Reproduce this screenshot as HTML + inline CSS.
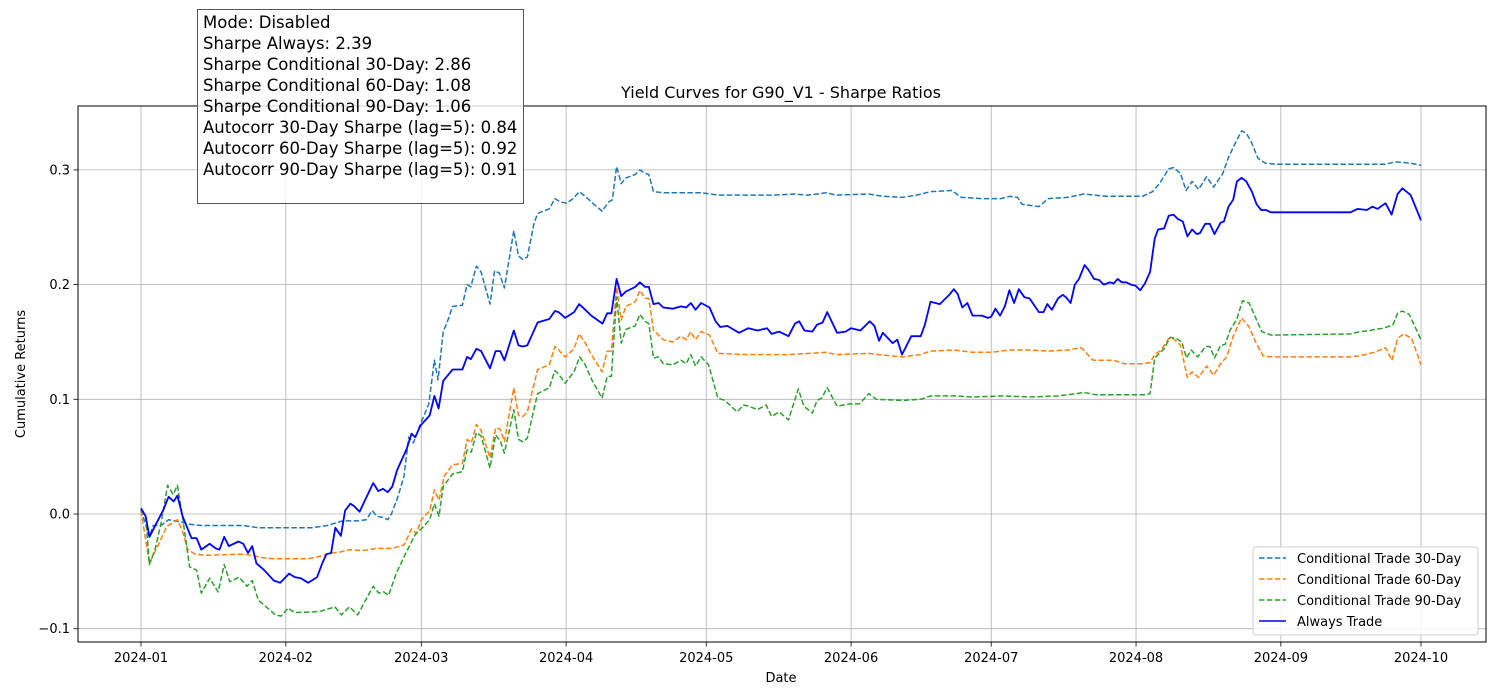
<!DOCTYPE html>
<html><head><meta charset="utf-8"><style>
body{margin:0;background:#fff;}
svg{display:block;font-family:"DejaVu Sans","Liberation Sans",sans-serif;}
</style></head><body>
<svg id="chart" width="1500" height="700" viewBox="0 0 1500 700">
<rect x="0" y="0" width="1500" height="700" fill="#fff"/>
<g id="grid"></g>
<g id="series"></g>
<rect x="78" y="106" width="1408" height="536" fill="none" stroke="#000" stroke-width="1"/>
<g id="ticks"></g>
<text x="781" y="98" font-size="16" text-anchor="middle">Yield Curves for G90_V1 - Sharpe Ratios</text>
<text x="781" y="682" font-size="13" text-anchor="middle">Date</text>
<text x="25" y="374" font-size="13" text-anchor="middle" transform="rotate(-90 25 374)">Cumulative Returns</text>
<g>
<rect x="197.5" y="9.5" width="326" height="194" fill="#fff" fill-opacity="0.8" stroke="#555" stroke-width="1"/>
<g font-size="16.5" fill="#000">
<text x="203" y="28">Mode: Disabled</text>
<text x="203" y="49">Sharpe Always: 2.39</text>
<text x="203" y="70">Sharpe Conditional 30-Day: 2.86</text>
<text x="203" y="91">Sharpe Conditional 60-Day: 1.08</text>
<text x="203" y="112">Sharpe Conditional 90-Day: 1.06</text>
<text x="203" y="133">Autocorr 30-Day Sharpe (lag=5): 0.84</text>
<text x="203" y="154">Autocorr 60-Day Sharpe (lag=5): 0.92</text>
<text x="203" y="175">Autocorr 90-Day Sharpe (lag=5): 0.91</text>
</g></g>
<g>
<rect x="1253" y="547" width="225" height="88" rx="3" fill="#fff" fill-opacity="0.85" stroke="#ccc"/>
<line x1="1259" y1="558" x2="1286" y2="558" stroke="#1f77b4" stroke-width="1.5" stroke-dasharray="5.5,2.4"/>
<line x1="1259" y1="579" x2="1286" y2="579" stroke="#ff7f0e" stroke-width="1.5" stroke-dasharray="5.5,2.4"/>
<line x1="1259" y1="600" x2="1286" y2="600" stroke="#2ca02c" stroke-width="1.5" stroke-dasharray="5.5,2.4"/>
<line x1="1259" y1="621" x2="1286" y2="621" stroke="#0000ff" stroke-width="1.5"/>
<g font-size="13">
<text x="1297" y="563">Conditional Trade 30-Day</text>
<text x="1297" y="584">Conditional Trade 60-Day</text>
<text x="1297" y="605">Conditional Trade 90-Day</text>
<text x="1297" y="626">Always Trade</text>
</g></g>
</svg>
<script>
const xTickLabels=["2024-01","2024-02","2024-03","2024-04","2024-05","2024-06","2024-07","2024-08","2024-09","2024-10"];
const xTickDays=[0,31,60,91,121,152,182,213,244,274];
const yTicks=[-0.1,0,0.1,0.2,0.3];
const yTickLabels=["\u22120.1","0.0","0.1","0.2","0.3"];

const daysAlways=[0,1,1.8,4.7,5.9,7,7.8,8.9,10.8,11.9,12.9,14.7,16,16.8,17.8,18.8,20.9,21.9,22.9,23.8,24.7,26.4,28.4,29.8,31.7,32.9,34.2,35.8,37.7,38.9,39.7,40.7,41.6,42.8,43.7,44.8,45.6,46.8,49.7,50.8,51.8,52.8,53.8,54.8,56.9,57.9,58.7,59.8,61.8,62.8,63.7,64.7,66.7,68.8,69.8,70.6,71.8,72.8,74.7,75.9,76.9,77.8,79.8,80.8,81.7,82.7,84.9,87.4,88.6,89.4,90.8,92.7,93.8,95.1,96.4,98.8,99.8,100.7,101.8,102.8,103.8,105.8,106.8,107.9,108.7,109.7,110.8,111.8,113.8,115.6,116.7,117.7,118.7,119.9,121.7,123,124,125.5,128,130,132,134,135,136.6,138.6,140,140.9,142,143.7,144.7,145.9,146.9,149,150.8,152,154,156,157,158,158.8,160.9,161.9,162.9,164.9,166.9,167.8,169,171,173,174,174.8,175.8,176.9,178,180,181.3,182,182.9,183.9,184.9,185.9,186.9,187.9,189.1,190.2,192.2,193.2,194,195,196.3,197.3,198,199,199.9,200.8,202,202.8,204,205.1,206.1,207.4,208.2,209.1,209.9,210.9,211.9,212.9,213.9,214.9,216,217,217.7,219,220,221,222,223,224,225,226,226.7,227.8,228.8,229.8,231.1,231.8,232.8,233.8,234.6,235.6,236.6,237.8,238.8,239.8,240.8,241.9,258.9,260.4,262.4,263.6,264.7,266.4,267.7,269,270,271.8,274];
const valsAlways=[0.005,-0.002,-0.02,0.003,0.015,0.011,0.016,-0.002,-0.021,-0.021,-0.031,-0.026,-0.03,-0.031,-0.02,-0.028,-0.024,-0.026,-0.034,-0.028,-0.043,-0.049,-0.058,-0.06,-0.052,-0.055,-0.056,-0.06,-0.055,-0.042,-0.035,-0.034,-0.012,-0.019,0.003,0.009,0.007,0.002,0.027,0.02,0.022,0.019,0.024,0.038,0.057,0.07,0.067,0.077,0.086,0.103,0.092,0.116,0.126,0.126,0.137,0.135,0.144,0.142,0.127,0.142,0.142,0.134,0.16,0.147,0.146,0.147,0.167,0.17,0.177,0.176,0.171,0.176,0.183,0.178,0.173,0.166,0.175,0.175,0.205,0.19,0.194,0.198,0.202,0.198,0.198,0.183,0.184,0.18,0.179,0.181,0.18,0.184,0.178,0.184,0.18,0.168,0.163,0.164,0.158,0.162,0.16,0.162,0.157,0.159,0.155,0.166,0.168,0.16,0.159,0.165,0.167,0.176,0.158,0.159,0.162,0.16,0.168,0.164,0.151,0.158,0.149,0.152,0.139,0.155,0.155,0.165,0.185,0.183,0.191,0.196,0.192,0.18,0.184,0.173,0.173,0.171,0.172,0.179,0.173,0.181,0.195,0.184,0.196,0.189,0.188,0.176,0.176,0.183,0.178,0.188,0.191,0.189,0.184,0.2,0.205,0.217,0.213,0.205,0.204,0.2,0.202,0.201,0.205,0.202,0.202,0.2,0.199,0.195,0.201,0.211,0.24,0.248,0.249,0.26,0.261,0.257,0.255,0.242,0.248,0.244,0.245,0.253,0.253,0.244,0.254,0.255,0.268,0.274,0.29,0.293,0.29,0.281,0.27,0.265,0.265,0.263,0.263,0.266,0.265,0.268,0.266,0.271,0.261,0.279,0.284,0.278,0.256];

const days30=[0,1.8,2.6,4.3,5.9,7.5,10.4,12.9,18.6,21.9,25.1,30,36.6,39.9,41.5,43.2,46.4,48.2,49.5,50.5,51.8,52.8,53.6,55,56.3,57.3,58.3,59.5,60.5,61.6,62.8,63.6,64.7,65.7,66.7,68.8,69.8,70.6,71.8,72.8,74.7,75.7,76.7,77.8,79.8,80.8,81.7,82.7,84.1,84.9,86.1,87.4,88.6,89.8,91.1,92.5,93.8,95.1,96.4,98.7,100.1,100.9,101.8,102.8,103.8,105.8,106.8,107.9,108.7,109.7,112,120.1,123.5,129.6,135.6,139.7,142.7,146.7,148.8,155.8,158.8,163,166,169,173.6,175.6,180,184.1,186,187.6,188.6,192.2,194.2,198.3,201.8,206.4,212.4,214.4,216.5,218,220,221,222.5,223.7,225,226.4,228.1,229.6,231.6,232.8,234.2,235.6,236.6,237.6,239.1,240.6,242.7,250.8,258.9,266.4,268.5,271.5,274];
const vals30=[0.004,-0.02,-0.01,-0.01,-0.005,-0.006,-0.009,-0.01,-0.01,-0.01,-0.012,-0.012,-0.012,-0.01,-0.008,-0.006,-0.006,-0.005,0.003,-0.002,-0.003,-0.005,0.0,0.015,0.033,0.067,0.062,0.075,0.085,0.096,0.134,0.117,0.159,0.169,0.181,0.182,0.2,0.198,0.216,0.211,0.183,0.212,0.21,0.197,0.247,0.225,0.222,0.224,0.253,0.262,0.264,0.266,0.275,0.272,0.271,0.275,0.281,0.277,0.272,0.264,0.272,0.274,0.303,0.288,0.293,0.296,0.3,0.297,0.296,0.281,0.28,0.28,0.278,0.278,0.278,0.279,0.278,0.28,0.278,0.279,0.277,0.276,0.278,0.281,0.282,0.276,0.275,0.275,0.277,0.276,0.27,0.268,0.275,0.276,0.279,0.277,0.277,0.277,0.281,0.288,0.301,0.302,0.297,0.282,0.29,0.283,0.294,0.285,0.297,0.311,0.323,0.334,0.332,0.325,0.31,0.306,0.305,0.305,0.305,0.305,0.307,0.306,0.304];

const days60=[0,1.8,3.8,5.5,6.7,7.8,8.8,10,11.6,13.7,21.9,23.5,26,28.4,35.8,38.2,40.7,42.8,44.8,47.3,50.5,53.8,56.3,57.9,58.9,60,61.8,62.8,63.8,64.9,66.7,68.8,69.8,70.7,71.8,72.8,74.7,75.9,76.9,77.8,79.8,80.8,81.7,82.7,84.9,87.4,88.6,89.4,90.8,92.7,93.8,95.1,96.4,98.7,99.8,100.7,101.8,102.8,103.8,105.8,106.8,107.9,108.7,109.7,110.8,111.8,113.8,115.6,116.7,117.7,118.7,119.9,121.7,123.5,129.6,138.6,146.7,148.8,155.8,157.9,162.9,166.9,169,174,178,182,186,190.2,194.2,198.3,201.3,203.8,208.2,210.4,214.4,216,217,218.4,220,221,222.5,224,225,226.4,228.1,229.6,231.1,232.4,233.8,235.6,237.2,238.7,240.2,241.8,258.9,261,264,266.4,267.8,269,270.3,272,274];
const vals60=[0.003,-0.043,-0.026,-0.011,-0.008,-0.005,-0.014,-0.031,-0.035,-0.036,-0.035,-0.036,-0.038,-0.039,-0.039,-0.037,-0.034,-0.033,-0.031,-0.032,-0.03,-0.03,-0.027,-0.013,-0.017,-0.005,0.003,0.021,0.012,0.033,0.043,0.044,0.065,0.062,0.078,0.073,0.049,0.075,0.074,0.063,0.11,0.086,0.085,0.089,0.126,0.13,0.146,0.143,0.137,0.144,0.157,0.149,0.139,0.124,0.142,0.142,0.198,0.169,0.181,0.185,0.195,0.188,0.188,0.16,0.156,0.152,0.15,0.155,0.152,0.159,0.152,0.159,0.156,0.14,0.139,0.139,0.141,0.139,0.14,0.139,0.137,0.139,0.142,0.143,0.141,0.141,0.143,0.143,0.142,0.143,0.145,0.134,0.134,0.131,0.131,0.132,0.139,0.143,0.153,0.153,0.147,0.119,0.124,0.119,0.129,0.121,0.131,0.137,0.155,0.171,0.163,0.149,0.138,0.137,0.137,0.138,0.141,0.145,0.134,0.153,0.157,0.153,0.13];

const days90=[0,1,1.8,3,4.3,5.7,6.9,7.8,8.8,10.4,11.9,12.9,14.7,16.5,17.8,19,21,22.7,23.8,25.1,26.8,28.8,30,31.5,32.9,38.2,41.5,42.9,44.6,46.4,48.1,49.7,50.9,52,53,54.6,56.7,58.7,60,61.8,62.8,63.8,64.7,66.7,68.8,69.8,70.7,71.8,72.8,74.7,75.9,76.9,77.8,79.8,80.8,81.7,82.7,84.9,87.4,88.6,89.4,90.8,92.7,93.9,95.1,96.5,98.7,99.8,100.7,101.8,102.8,103.8,105.8,106.8,107.9,108.7,109.7,110.8,111.8,113.8,115.6,116.7,117.7,118.7,119.9,121.5,123.5,125,127.6,129,130,132,133.8,135,136.6,138.6,140.7,141.9,143.7,144.7,145.7,146.9,149,151.8,153.8,155.8,157.4,163,166.9,169,174,178,184.7,190.2,196.3,200.3,201.8,204.3,212.4,215,216,217,219,220.3,221.6,222.8,223.8,224.8,226.2,227.9,228.8,229.8,231.1,232.1,233.1,234.6,235.8,237.2,238.5,239.9,241.9,258.9,261,263,264.2,266,268,269,270,271.5,274];
const vals90=[0.003,-0.002,-0.044,-0.031,-0.008,0.025,0.017,0.025,0.0,-0.046,-0.049,-0.069,-0.056,-0.068,-0.044,-0.059,-0.055,-0.063,-0.058,-0.075,-0.081,-0.088,-0.089,-0.082,-0.086,-0.085,-0.081,-0.088,-0.081,-0.088,-0.075,-0.063,-0.069,-0.068,-0.071,-0.052,-0.034,-0.018,-0.013,-0.005,0.009,-0.002,0.024,0.035,0.037,0.056,0.054,0.071,0.068,0.04,0.069,0.064,0.053,0.091,0.065,0.063,0.066,0.105,0.11,0.125,0.122,0.114,0.124,0.137,0.13,0.117,0.101,0.12,0.12,0.189,0.149,0.161,0.164,0.174,0.168,0.166,0.136,0.137,0.131,0.13,0.134,0.131,0.139,0.129,0.137,0.13,0.101,0.099,0.089,0.095,0.094,0.091,0.095,0.085,0.089,0.082,0.109,0.094,0.088,0.099,0.101,0.11,0.094,0.096,0.096,0.105,0.1,0.099,0.1,0.103,0.103,0.102,0.103,0.102,0.103,0.105,0.106,0.104,0.104,0.104,0.105,0.136,0.144,0.154,0.153,0.15,0.136,0.143,0.137,0.146,0.146,0.136,0.147,0.148,0.16,0.17,0.186,0.184,0.172,0.159,0.156,0.157,0.159,0.16,0.161,0.162,0.165,0.175,0.177,0.174,0.152];

const NS="http://www.w3.org/2000/svg";
function xScale(d){return 141+d*(1280/274);}
function yScale(v){return 514-v*1147;}
const grid=document.getElementById('grid'),ticks=document.getElementById('ticks'),series=document.getElementById('series');
function mk(tag,attrs,parent){const e=document.createElementNS(NS,tag);for(const k in attrs)e.setAttribute(k,attrs[k]);parent.appendChild(e);return e;}
xTickDays.forEach((d,i)=>{
  const x=xScale(d);
  const g=mk('line',{x1:x,y1:106,x2:x,y2:642,stroke:'#b0b0b0','stroke-width':0.8},grid);
  
  
  mk('line',{x1:x,y1:642,x2:x,y2:646.5,stroke:'#000','stroke-width':0.8},ticks);
  const t=mk('text',{x:x,y:662,'font-size':13,'text-anchor':'middle'},ticks);
  t.textContent=xTickLabels[i];
  
  
});
yTicks.forEach((v,i)=>{
  const y=yScale(v);
  const g=mk('line',{x1:78,y1:y,x2:1486,y2:y,stroke:'#b0b0b0','stroke-width':0.8},grid);
  
  
  mk('line',{x1:73.5,y1:y,x2:78,y2:y,stroke:'#000','stroke-width':0.8},ticks);
  const t=mk('text',{x:70,y:y+4.5,'font-size':13,'text-anchor':'end'},ticks);
  t.textContent=yTickLabels[i];
  
  
});
function line(days,vals,color,dash,w,name){
  const d=days.map((dd,i)=>(i?'L':'M')+xScale(dd).toFixed(1)+','+yScale(vals[i]).toFixed(1)).join('');
  const p=mk('path',{d:d,fill:'none',stroke:color,'stroke-width':w,'stroke-linejoin':'round'},series);
  if(dash)p.setAttribute('stroke-dasharray',dash);
  
  
}
line(days30,vals30,'#1f77b4','5.5,2.4',1.5,'line-conditional-30');
line(days60,vals60,'#ff7f0e','5.5,2.4',1.5,'line-conditional-60');
line(days90,vals90,'#2ca02c','5.5,2.4',1.5,'line-conditional-90');
line(daysAlways,valsAlways,'#0000ff',null,1.8,'line-always-trade');
</script>
</body></html>
